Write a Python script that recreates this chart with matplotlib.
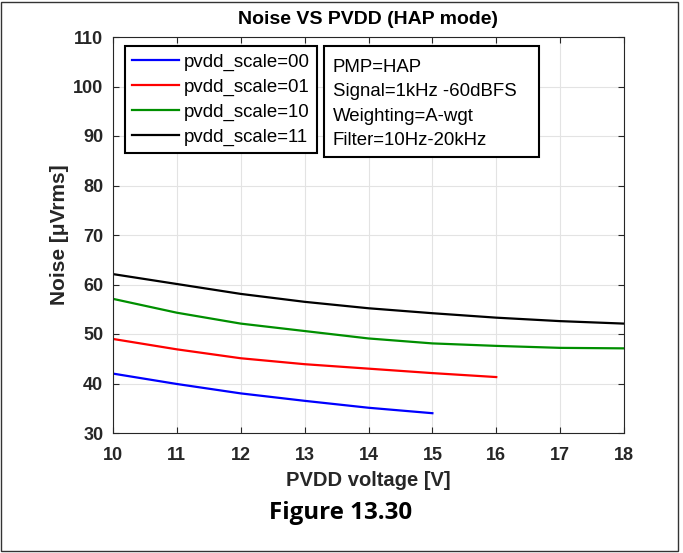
import matplotlib
matplotlib.use("Agg")
import matplotlib.pyplot as plt
from matplotlib.patches import Rectangle

plt.rcParams['font.family'] = ['Liberation Sans', 'DejaVu Sans']

voltage = [10, 11, 12, 13, 14, 15, 16, 17, 18]
noise_00 = [42.0, 39.9, 38.0, 36.5, 35.1, 34.0]
noise_01 = [49.0, 46.9, 45.1, 43.9, 43.0, 42.1, 41.3]
noise_10 = [57.1, 54.3, 52.1, 50.6, 49.1, 48.1, 47.6, 47.2, 47.1]
noise_11 = [62.1, 60.1, 58.1, 56.5, 55.2, 54.2, 53.3, 52.6, 52.1]
series_labels = ['pvdd_scale=00', 'pvdd_scale=01', 'pvdd_scale=10', 'pvdd_scale=11']
series_colors = ['#0000ff', '#ff0000', '#008f00', '#000000']
yticks = [30, 40, 50, 60, 70, 80, 90, 100, 110]
info_lines = ['PMP=HAP', 'Signal=1kHz -60dBFS', 'Weighting=A-wgt', 'Filter=10Hz-20kHz']

W, H = 683, 553
fig = plt.figure(figsize=(W / 100, H / 100), dpi=100)
fig.patch.set_facecolor('white')

x0, x1, y0, y1 = 113, 624, 37, 433
ax = fig.add_axes([x0 / W, 1 - y1 / H, (x1 - x0) / W, (y1 - y0) / H])


def axx(px):
    return (px - x0) / (x1 - x0)


def axy(py):
    return 1 - (py - y0) / (y1 - y0)


all_series = [noise_00, noise_01, noise_10, noise_11]
for vals, lab, col in zip(all_series, series_labels, series_colors):
    ax.plot(voltage[:len(vals)], vals, color=col, lw=1.6, label=lab)

ax.set_xlim(10, 18)
ax.set_ylim(30, 110)
ax.set_xticks(voltage)
ax.set_yticks(yticks)
ax.grid(True, color='#e3e3e3', lw=0.8)
ax.set_axisbelow(True)
ax.tick_params(direction='in', top=True, right=True, length=4, width=0.8,
               colors='#262626', labelsize=13)
ax.tick_params(axis='x', pad=10)
ax.tick_params(axis='y', pad=7)
for lbl in ax.get_xticklabels() + ax.get_yticklabels():
    lbl.set_fontweight('bold')
    lbl.set_color('#262626')
for s in ax.spines.values():
    s.set_color('#262626')
    s.set_linewidth(0.8)

ax.set_title('Noise VS PVDD (HAP mode)', fontsize=14, fontweight='bold', pad=9)
ax.set_xlabel('PVDD voltage [V]', fontsize=14.5, fontweight='bold', color='#262626', labelpad=5)
ax.set_ylabel('Noise [μVrms]', fontsize=15, fontweight='bold', color='#262626', labelpad=3)

leg = ax.legend(loc='upper left', bbox_to_anchor=(axx(125), axy(46)),
                borderaxespad=0, fontsize=13.4, frameon=True, fancybox=False,
                handlelength=2.5, handletextpad=0.25, labelspacing=0.42, borderpad=0.4)
leg.get_frame().set_edgecolor('black')
leg.get_frame().set_linewidth(1.5)
leg.get_frame().set_alpha(1)

ax.add_patch(Rectangle((axx(324), axy(157)), axx(539) - axx(324), axy(46) - axy(157),
                       transform=ax.transAxes, facecolor='white', edgecolor='black',
                       lw=1.5, zorder=5, clip_on=False))
ax.text(axx(333), axy(59), '\n'.join(info_lines),
        transform=ax.transAxes, ha='left', va='top', fontsize=13.4, linespacing=1.56,
        zorder=6)

fig.text(341 / W, 1 - 513 / H, 'Figure 13.30', ha='center', va='center',
         fontsize=17.4, fontweight='bold', family=['Open Sans', 'DejaVu Sans'])

fig.add_artist(Rectangle((0.5 / W, 1 - 551 / H), 677 / W, 549 / H, transform=fig.transFigure,
                         fill=False, edgecolor='#333333', lw=1.0))

fig.savefig('out.png', dpi=100)
